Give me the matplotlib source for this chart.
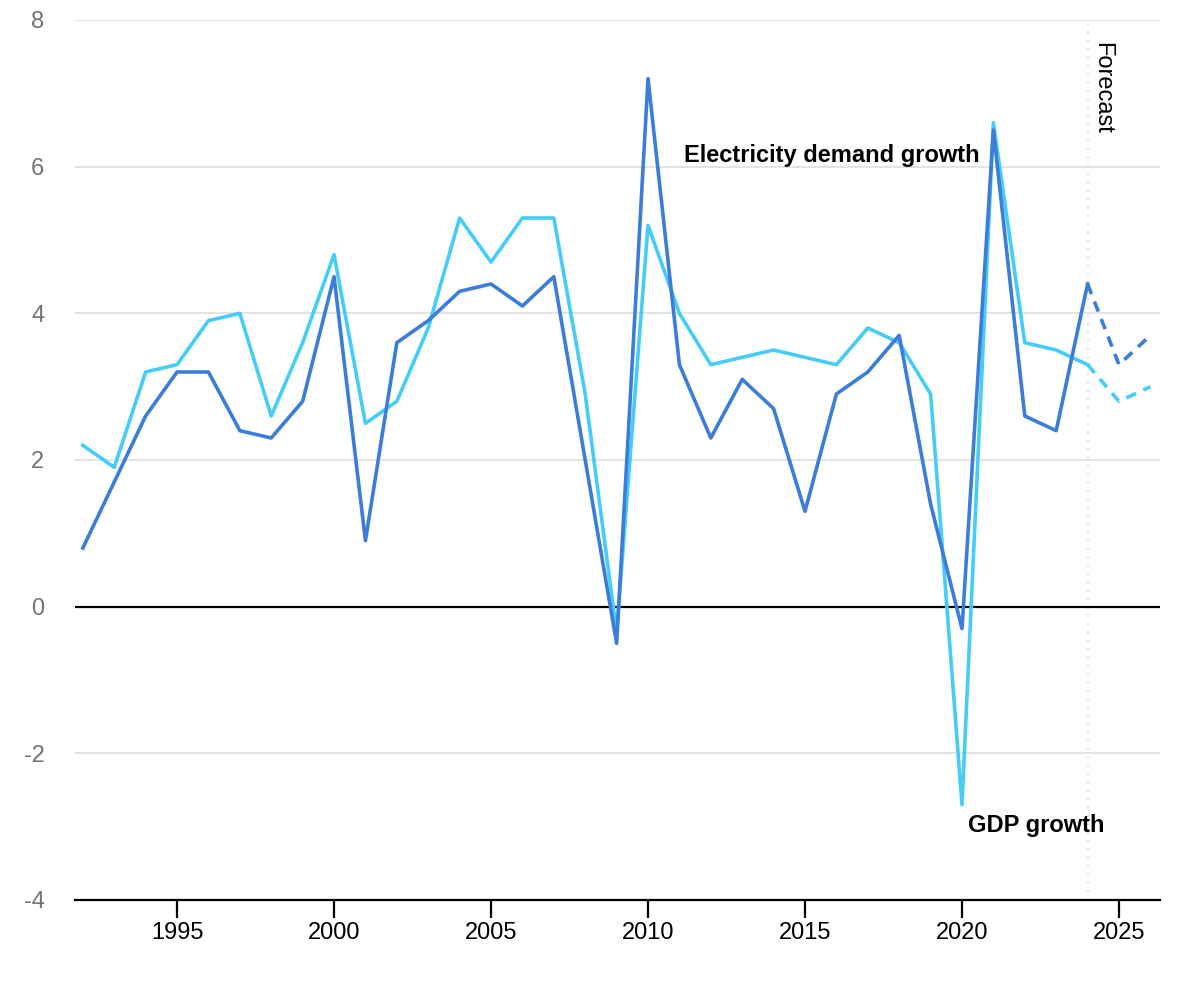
import matplotlib
matplotlib.use("Agg")
import matplotlib.pyplot as plt

plt.rcParams['font.family'] = ['Liberation Sans', 'DejaVu Sans']

# Historical years and forecast years
years = list(range(1992, 2025))
forecast_years = [2024, 2025, 2026]

# Electricity demand growth (%)
electricity = [0.8, 1.7, 2.6, 3.2, 3.2, 2.4, 2.3, 2.8, 4.5, 0.9,
               3.6, 3.9, 4.3, 4.4, 4.1, 4.5, 2.0, -0.5, 7.2, 3.3,
               2.3, 3.1, 2.7, 1.3, 2.9, 3.2, 3.7, 1.4, -0.3, 6.5,
               2.6, 2.4, 4.4]
electricity_forecast = [4.4, 3.3, 3.7]

# GDP growth (%)
gdp = [2.2, 1.9, 3.2, 3.3, 3.9, 4.0, 2.6, 3.6, 4.8, 2.5,
       2.8, 3.8, 5.3, 4.7, 5.3, 5.3, 2.9, -0.35, 5.2, 4.0,
       3.3, 3.4, 3.5, 3.4, 3.3, 3.8, 3.6, 2.9, -2.7, 6.6,
       3.6, 3.5, 3.3]
gdp_forecast = [3.3, 2.8, 3.0]

dark_blue = "#3b7dd8"
light_blue = "#45cdf7"

fig = plt.figure(figsize=(12, 10), dpi=100)
ax = fig.add_axes([0.0625, 0.1, 0.904, 0.88])

# grid lines
for y in [-2, 2, 4, 6, 8]:
    ax.axhline(y, color="#e0e0e0", lw=1.3, zorder=0)
ax.axhline(0, color="black", lw=1.6, zorder=1)

# forecast marker
ax.axvline(2024, color="#d6d6d6", lw=1.2, ls=(0, (1, 4)), zorder=0)
ax.text(2024.1, 7.7, "Forecast", rotation=-90, va="top", ha="left",
        fontsize=17, color="black")

ax.plot(forecast_years, gdp_forecast, color=light_blue,
        lw=2.6, ls=(0, (3, 2.2)), zorder=2)
ax.plot(forecast_years, electricity_forecast, color=dark_blue,
        lw=2.6, ls=(0, (3, 2.2)), zorder=3)
ax.plot(years, gdp, color=light_blue, lw=2.6, zorder=2)
ax.plot(years, electricity, color=dark_blue, lw=2.6, zorder=3)

ax.text(2011.15, 6.15, "Electricity demand growth", fontsize=17,
        fontweight="bold", ha="left", va="center")
ax.text(2020.2, -2.98, "GDP growth", fontsize=17,
        fontweight="bold", ha="left", va="center")

ax.set_xlim(1991.75, 2026.3)
ax.set_ylim(-4, 8)
ax.set_yticks([-4, -2, 0, 2, 4, 6, 8])
ax.set_yticklabels(["-4", "-2", "0", "2", "4", "6", "8"])
ax.set_xticks([1995, 2000, 2005, 2010, 2015, 2020, 2025])

for s in ["top", "right", "left"]:
    ax.spines[s].set_visible(False)
ax.spines["bottom"].set_linewidth(1.6)
ax.tick_params(axis="y", length=0, pad=22, labelsize=17, labelcolor="#737373")
ax.tick_params(axis="x", length=13, width=1.6, labelsize=17, pad=3)

fig.savefig("out.png", dpi=100)
